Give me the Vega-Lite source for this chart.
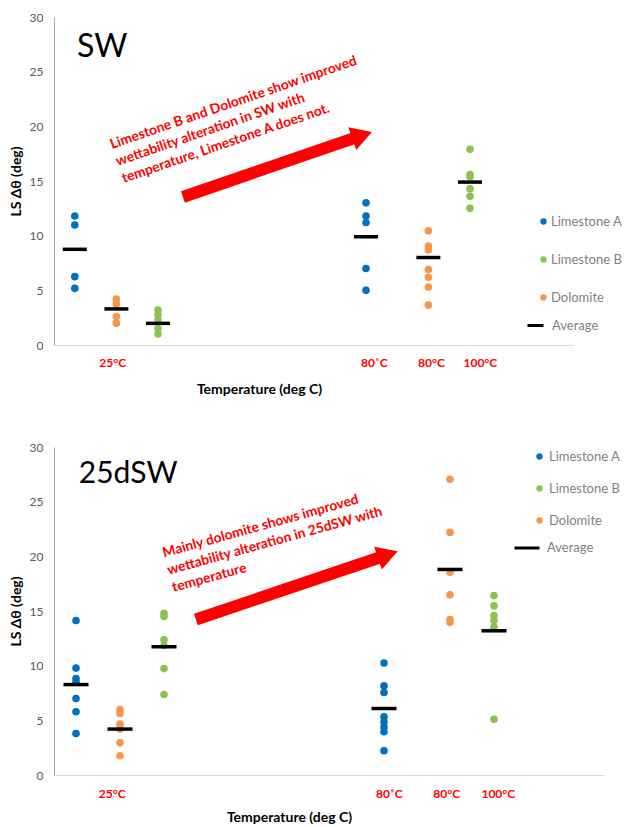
{
  "$schema": "https://vega.github.io/schema/vega-lite/v6.json",
  "padding": {"left": 9, "top": 11, "right": 0, "bottom": 0},
  "background": "white",
  "config": {
    "font": "Lato",
    "view": {"stroke": null},
    "axisY": {"grid": false, "ticks": false, "domainColor": "#a6a6a6", "labelColor": "#595959", "labelFontSize": 12, "labelPadding": 11, "titleFontSize": 14, "titleFontWeight": "bold", "titleColor": "black", "titlePadding": 6, "values": [0, 5, 10, 15, 20, 25, 30]},
    "axisX": {"grid": false, "ticks": false, "domainColor": "#d9d9d9", "labelColor": "#ff0000", "labelFontWeight": "bold", "labelFontSize": 12, "titleFontSize": 14, "titleFontWeight": "bold", "titleColor": "black", "titleAlign": "center", "titleBaseline": "alphabetic", "titleAnchor": null}
  },
  "resolve": {"scale": {"color": "independent", "shape": "independent", "x": "independent", "y": "independent"}, "legend": {"color": "independent", "shape": "independent"}},
  "spacing": 45,
  "datasets": {
    "sw_points": [
      {"mineral": "Limestone A", "temp": "25°C", "pos": 4, "value": 11.8},
      {"mineral": "Limestone A", "temp": "25°C", "pos": 4, "value": 10.98},
      {"mineral": "Limestone A", "temp": "25°C", "pos": 4, "value": 6.25},
      {"mineral": "Limestone A", "temp": "25°C", "pos": 4, "value": 5.18},
      {"mineral": "Dolomite", "temp": "25°C", "pos": 12, "value": 4.2},
      {"mineral": "Dolomite", "temp": "25°C", "pos": 12, "value": 3.75},
      {"mineral": "Dolomite", "temp": "25°C", "pos": 12, "value": 2.6},
      {"mineral": "Dolomite", "temp": "25°C", "pos": 12, "value": 2.0},
      {"mineral": "Limestone B", "temp": "25°C", "pos": 20, "value": 3.2},
      {"mineral": "Limestone B", "temp": "25°C", "pos": 20, "value": 2.75},
      {"mineral": "Limestone B", "temp": "25°C", "pos": 20, "value": 2.3},
      {"mineral": "Limestone B", "temp": "25°C", "pos": 20, "value": 1.5},
      {"mineral": "Limestone B", "temp": "25°C", "pos": 20, "value": 1.0},
      {"mineral": "Limestone A", "temp": "80°C", "pos": 60, "value": 13.0},
      {"mineral": "Limestone A", "temp": "80°C", "pos": 60, "value": 11.8},
      {"mineral": "Limestone A", "temp": "80°C", "pos": 60, "value": 11.2},
      {"mineral": "Limestone A", "temp": "80°C", "pos": 60, "value": 7.0},
      {"mineral": "Limestone A", "temp": "80°C", "pos": 60, "value": 5.0},
      {"mineral": "Dolomite", "temp": "80°C", "pos": 72, "value": 10.45},
      {"mineral": "Dolomite", "temp": "80°C", "pos": 72, "value": 9.05},
      {"mineral": "Dolomite", "temp": "80°C", "pos": 72, "value": 8.7},
      {"mineral": "Dolomite", "temp": "80°C", "pos": 72, "value": 6.9},
      {"mineral": "Dolomite", "temp": "80°C", "pos": 72, "value": 6.2},
      {"mineral": "Dolomite", "temp": "80°C", "pos": 72, "value": 5.3},
      {"mineral": "Dolomite", "temp": "80°C", "pos": 72, "value": 3.65},
      {"mineral": "Limestone B", "temp": "100°C", "pos": 80, "value": 17.9},
      {"mineral": "Limestone B", "temp": "100°C", "pos": 80, "value": 15.6},
      {"mineral": "Limestone B", "temp": "100°C", "pos": 80, "value": 15.4},
      {"mineral": "Limestone B", "temp": "100°C", "pos": 80, "value": 14.3},
      {"mineral": "Limestone B", "temp": "100°C", "pos": 80, "value": 13.6},
      {"mineral": "Limestone B", "temp": "100°C", "pos": 80, "value": 12.5}
    ],
    "sw_avg": [
      {"mineral": "Limestone A", "temp": "25°C", "pos": 4, "avg": 8.75},
      {"mineral": "Dolomite", "temp": "25°C", "pos": 12, "avg": 3.3},
      {"mineral": "Limestone B", "temp": "25°C", "pos": 20, "avg": 1.98},
      {"mineral": "Limestone A", "temp": "80°C", "pos": 60, "avg": 9.9},
      {"mineral": "Dolomite", "temp": "80°C", "pos": 72, "avg": 8.0},
      {"mineral": "Limestone B", "temp": "100°C", "pos": 80, "avg": 14.9}
    ],
    "dsw_points": [
      {"mineral": "Limestone A", "temp": "25°C", "pos": 4, "value": 14.13},
      {"mineral": "Limestone A", "temp": "25°C", "pos": 4, "value": 9.78},
      {"mineral": "Limestone A", "temp": "25°C", "pos": 4, "value": 8.82},
      {"mineral": "Limestone A", "temp": "25°C", "pos": 4, "value": 8.5},
      {"mineral": "Limestone A", "temp": "25°C", "pos": 4, "value": 7.0},
      {"mineral": "Limestone A", "temp": "25°C", "pos": 4, "value": 5.78},
      {"mineral": "Limestone A", "temp": "25°C", "pos": 4, "value": 3.8},
      {"mineral": "Dolomite", "temp": "25°C", "pos": 12, "value": 5.99},
      {"mineral": "Dolomite", "temp": "25°C", "pos": 12, "value": 5.62},
      {"mineral": "Dolomite", "temp": "25°C", "pos": 12, "value": 4.65},
      {"mineral": "Dolomite", "temp": "25°C", "pos": 12, "value": 4.2},
      {"mineral": "Dolomite", "temp": "25°C", "pos": 12, "value": 2.95},
      {"mineral": "Dolomite", "temp": "25°C", "pos": 12, "value": 1.76},
      {"mineral": "Limestone B", "temp": "25°C", "pos": 20, "value": 14.8},
      {"mineral": "Limestone B", "temp": "25°C", "pos": 20, "value": 14.5},
      {"mineral": "Limestone B", "temp": "25°C", "pos": 20, "value": 12.37},
      {"mineral": "Limestone B", "temp": "25°C", "pos": 20, "value": 11.85},
      {"mineral": "Limestone B", "temp": "25°C", "pos": 20, "value": 9.73},
      {"mineral": "Limestone B", "temp": "25°C", "pos": 20, "value": 7.36},
      {"mineral": "Limestone A", "temp": "80°C", "pos": 60, "value": 10.24},
      {"mineral": "Limestone A", "temp": "80°C", "pos": 60, "value": 8.15},
      {"mineral": "Limestone A", "temp": "80°C", "pos": 60, "value": 7.54},
      {"mineral": "Limestone A", "temp": "80°C", "pos": 60, "value": 5.32},
      {"mineral": "Limestone A", "temp": "80°C", "pos": 60, "value": 4.86},
      {"mineral": "Limestone A", "temp": "80°C", "pos": 60, "value": 4.4},
      {"mineral": "Limestone A", "temp": "80°C", "pos": 60, "value": 3.95},
      {"mineral": "Limestone A", "temp": "80°C", "pos": 60, "value": 2.22},
      {"mineral": "Dolomite", "temp": "80°C", "pos": 72, "value": 27.05},
      {"mineral": "Dolomite", "temp": "80°C", "pos": 72, "value": 22.19},
      {"mineral": "Dolomite", "temp": "80°C", "pos": 72, "value": 18.54},
      {"mineral": "Dolomite", "temp": "80°C", "pos": 72, "value": 16.48},
      {"mineral": "Dolomite", "temp": "80°C", "pos": 72, "value": 14.22},
      {"mineral": "Dolomite", "temp": "80°C", "pos": 72, "value": 13.98},
      {"mineral": "Limestone B", "temp": "100°C", "pos": 80, "value": 16.41},
      {"mineral": "Limestone B", "temp": "100°C", "pos": 80, "value": 15.47},
      {"mineral": "Limestone B", "temp": "100°C", "pos": 80, "value": 14.59},
      {"mineral": "Limestone B", "temp": "100°C", "pos": 80, "value": 14.13},
      {"mineral": "Limestone B", "temp": "100°C", "pos": 80, "value": 13.52},
      {"mineral": "Limestone B", "temp": "100°C", "pos": 80, "value": 5.1}
    ],
    "dsw_avg": [
      {"mineral": "Limestone A", "temp": "25°C", "pos": 4, "avg": 8.27},
      {"mineral": "Dolomite", "temp": "25°C", "pos": 12, "avg": 4.2},
      {"mineral": "Limestone B", "temp": "25°C", "pos": 20, "avg": 11.73},
      {"mineral": "Limestone A", "temp": "80°C", "pos": 60, "avg": 6.08},
      {"mineral": "Dolomite", "temp": "80°C", "pos": 72, "avg": 18.8},
      {"mineral": "Limestone B", "temp": "100°C", "pos": 80, "avg": 13.19}
    ]
  },
  "vconcat": [
    {
      "width": 520,
      "height": 328,
      "layer": [
        {
          "data": {"name": "sw_points"},
          "mark": {"type": "point", "filled": true, "opacity": 1, "size": 58, "shape": "circle"},
          "encoding": {
            "x": {"field": "pos", "type": "quantitative", "scale": {"domain": [0, 100]},
                  "axis": {"values": [11.2, 61.5, 72.5, 81.9], "labelExpr": "datum.value < 30 ? '25°C' : datum.value < 65 ? '80˚C' : datum.value < 77 ? '80°C' : '100°C'", "labelPadding": 12, "title": "Temperature (deg C)", "titleX": 205, "titleY": 48}},
            "y": {"field": "value", "type": "quantitative", "scale": {"domain": [0, 30]}, "title": "LS Δθ (deg)"},
            "color": {"field": "mineral", "type": "nominal",
                      "scale": {"domain": ["Limestone A", "Limestone B", "Dolomite"], "range": ["#0070c0", "#8cc34f", "#f7964a"]},
                      "legend": {"orient": "none", "legendX": 483, "legendY": 198, "title": null, "padding": 0, "labelFontSize": 13, "labelColor": "#7f7f7f", "symbolType": "circle", "symbolSize": 40, "symbolStrokeWidth": 0, "rowPadding": 24, "labelOffset": 1}}
          }
        },
        {
          "data": {"name": "sw_avg"},
          "mark": {"type": "point", "filled": false, "color": "black", "strokeWidth": 3.5, "size": 576, "opacity": 1},
          "encoding": {
            "x": {"field": "pos", "type": "quantitative"},
            "y": {"field": "avg", "type": "quantitative"},
            "shape": {"datum": "Average", "scale": {"domain": ["Average"], "range": ["stroke"]},
                      "legend": {"orient": "none", "legendX": 472, "legendY": 299, "title": null, "padding": 0, "labelFontSize": 13, "labelColor": "#7f7f7f", "symbolSize": 256, "symbolStrokeWidth": 3, "symbolStrokeColor": "black", "symbolFillColor": "transparent", "labelOffset": 7}}
          }
        },
        {
          "data": {"values": [{}]},
          "mark": {"type": "rule", "color": "#ff0000", "strokeWidth": 12},
          "encoding": {"x": {"datum": 24.8}, "y": {"datum": 13.54}, "x2": {"datum": 59.25}, "y2": {"datum": 19.18}}
        },
        {
          "data": {"values": [{}]},
          "mark": {"type": "point", "shape": "triangle-right", "filled": true, "color": "#ff0000", "opacity": 1, "size": 576, "angle": -19},
          "encoding": {"x": {"datum": 59.25}, "y": {"datum": 19.18}}
        },
        {
          "data": {"values": [{}]},
          "mark": {"type": "text", "text": ["Limestone B and Dolomite show improved", "wettability alteration in SW with", "temperature, Limestone A does not."], "color": "#ff0000", "fontWeight": "bold", "fontSize": 13.8, "lineHeight": 18, "align": "left", "baseline": "alphabetic", "angle": -19},
          "encoding": {"x": {"datum": 11.15}, "y": {"datum": 17.93}}
        },
        {
          "data": {"values": [{}]},
          "mark": {"type": "text", "text": "SW", "color": "black", "fontSize": 32, "align": "left", "baseline": "alphabetic"},
          "encoding": {"x": {"datum": 4.4}, "y": {"datum": 26.3}}
        }
      ]
    },
    {
      "width": 550,
      "height": 328,
      "layer": [
        {
          "data": {"name": "dsw_points"},
          "mark": {"type": "point", "filled": true, "opacity": 1, "size": 58, "shape": "circle"},
          "encoding": {
            "x": {"field": "pos", "type": "quantitative", "scale": {"domain": [0, 100]},
                  "axis": {"values": [10.5, 60.9, 71.3, 80.7], "labelExpr": "datum.value < 30 ? '25°C' : datum.value < 65 ? '80˚C' : datum.value < 77 ? '80°C' : '100°C'", "labelPadding": 13, "title": "Temperature (deg C)", "titleX": 235, "titleY": 46}},
            "y": {"field": "value", "type": "quantitative", "scale": {"domain": [0, 30]}, "title": "LS Δθ (deg)"},
            "color": {"field": "mineral", "type": "nominal",
                      "scale": {"domain": ["Limestone A", "Limestone B", "Dolomite"], "range": ["#0070c0", "#8cc34f", "#f7964a"]},
                      "legend": {"orient": "none", "legendX": 479, "legendY": 3, "title": null, "padding": 0, "labelFontSize": 13, "labelColor": "#7f7f7f", "symbolType": "circle", "symbolSize": 40, "symbolStrokeWidth": 0, "rowPadding": 18, "labelOffset": 3}}
          }
        },
        {
          "data": {"name": "dsw_avg"},
          "mark": {"type": "point", "filled": false, "color": "black", "strokeWidth": 3.5, "size": 625, "opacity": 1},
          "encoding": {
            "x": {"field": "pos", "type": "quantitative"},
            "y": {"field": "avg", "type": "quantitative"},
            "shape": {"datum": "Average", "scale": {"domain": ["Average"], "range": ["stroke"]},
                      "legend": {"orient": "none", "legendX": 459, "legendY": 87, "title": null, "padding": 0, "labelFontSize": 13, "labelColor": "#7f7f7f", "symbolSize": 625, "symbolStrokeWidth": 3, "symbolStrokeColor": "black", "symbolFillColor": "transparent", "labelOffset": 6}}
          }
        },
        {
          "data": {"values": [{}]},
          "mark": {"type": "rule", "color": "#ff0000", "strokeWidth": 12},
          "encoding": {"x": {"datum": 25.8}, "y": {"datum": 14.22}, "x2": {"datum": 60.7}, "y2": {"datum": 20.15}}
        },
        {
          "data": {"values": [{}]},
          "mark": {"type": "point", "shape": "triangle-right", "filled": true, "color": "#ff0000", "opacity": 1, "size": 576, "angle": -18.7},
          "encoding": {"x": {"datum": 60.7}, "y": {"datum": 20.15}}
        },
        {
          "data": {"values": [{}]},
          "mark": {"type": "text", "text": ["Mainly dolomite shows improved", "wettability alteration in 25dSW with", "temperature"], "color": "#ff0000", "fontWeight": "bold", "fontSize": 13.8, "lineHeight": 18, "align": "left", "baseline": "alphabetic", "angle": -15.5},
          "encoding": {"x": {"datum": 20.0}, "y": {"datum": 19.9}}
        },
        {
          "data": {"values": [{}]},
          "mark": {"type": "text", "text": "25dSW", "color": "black", "fontSize": 30, "align": "left", "baseline": "alphabetic"},
          "encoding": {"x": {"datum": 4.5}, "y": {"datum": 26.7}}
        }
      ]
    }
  ]
}
